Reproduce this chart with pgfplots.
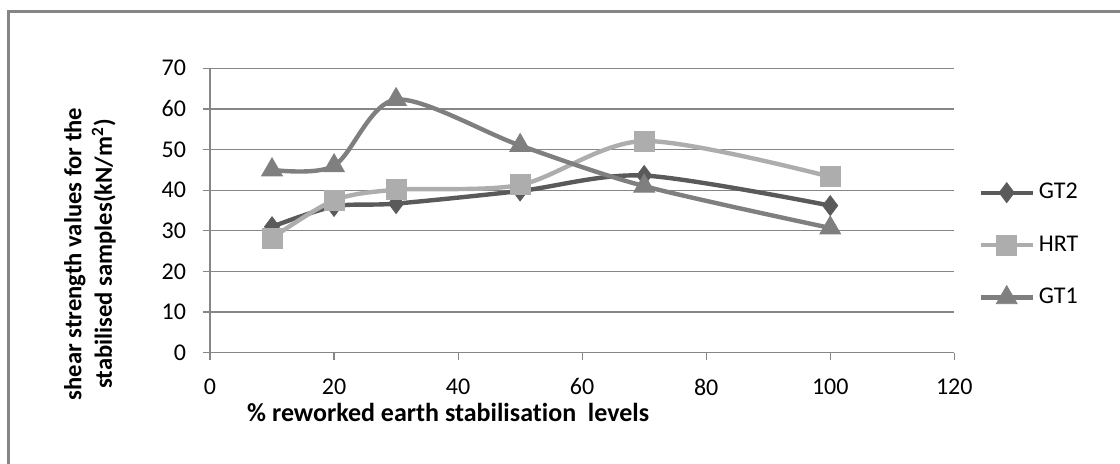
\documentclass[border=0pt]{standalone}
\usepackage{fontspec}
\setmainfont{Carlito}[Ligatures=NoCommon]
\usepackage{pgfplots}
\pgfplotsset{compat=1.18}
\definecolor{gtwo}{HTML}{5A5A5A}
\definecolor{hrt}{HTML}{ADADAD}
\definecolor{gtone}{HTML}{7F7F7F}
\definecolor{axgray}{HTML}{868686}
\begin{document}
\begin{tikzpicture}[x=0.5pt,y=0.5pt]
\path[use as bounding box] (0,0) rectangle (1120,464);
\draw[axgray, line width=1.6pt] (8.5,0) -- (8.5,452.5) -- (1120,452.5);
\node[rotate=90, align=center, font=\bfseries\fontsize{12.3}{15.2}\selectfont, inner sep=0pt] at (90,210) {shear strength values for the\\stabilised samples(kN/m\textsuperscript{2})};
\begin{axis}[
  at={(105pt,55.65pt)}, anchor=south west,
  scale only axis, width=372.15pt, height=142.2pt,
  xmin=0, xmax=120, ymin=0, ymax=70,
  xtick={0,20,...,120}, ytick={0,10,...,70},
  ymajorgrids, major grid style={axgray, line width=0.6pt},
  axis line style={axgray, line width=0.6pt},
  axis x line*=bottom, axis y line*=left,
  tick style={axgray, line width=0.6pt},
  tick align=outside, major tick length=3.5pt,
  xticklabel style={yshift=-6pt, font=\fontsize{12}{14}\selectfont},
  yticklabel style={xshift=-5pt, font=\fontsize{12}{14}\selectfont},
  tick label style={text=black},
  /pgf/number format/assume math mode=true,
  xlabel={\% reworked earth stabilisation\ \ levels},
  xlabel style={font=\bfseries\fontsize{13}{15}\selectfont, at={(0.32,0)}, anchor=north, yshift=-21.5pt},
  legend style={at={(1.032,0.378)}, anchor=west, draw=none, fill=none, font=\fontsize{12}{14}\selectfont, row sep=13pt, inner sep=0pt},
  legend cell align=left,
  legend image code/.code={
    \draw[#1, mark repeat=2, mark phase=2] plot coordinates {(0pt,0pt) (13pt,0pt) (26pt,0pt)};
  },
  every axis plot/.append style={line width=2.2pt, smooth, tension=0.5},
]
\addplot[gtwo, mark=diamond*, mark size=5pt, mark options={solid, line width=0.4pt, fill=gtwo}] coordinates {
(10,31) (20,36) (30,36.7) (50,39.8) (70,43.6) (100,36.2)};
\addlegendentry{GT2}
\addplot[hrt, mark=square*, mark size=5pt, mark options={solid, line width=0.4pt, fill=hrt}] coordinates {
(10,28.2) (20,37.5) (30,40.1) (50,41.3) (70,52.1) (100,43.3)};
\addlegendentry{HRT}
\addplot[gtone, mark=triangle*, mark size=6pt, mark options={solid, line width=0.4pt, fill=gtone}] coordinates {
(10,45) (20,46) (30,62.3) (50,51) (70,41) (100,30.7)};
\addlegendentry{GT1}
\end{axis}
\end{tikzpicture}
\end{document}
